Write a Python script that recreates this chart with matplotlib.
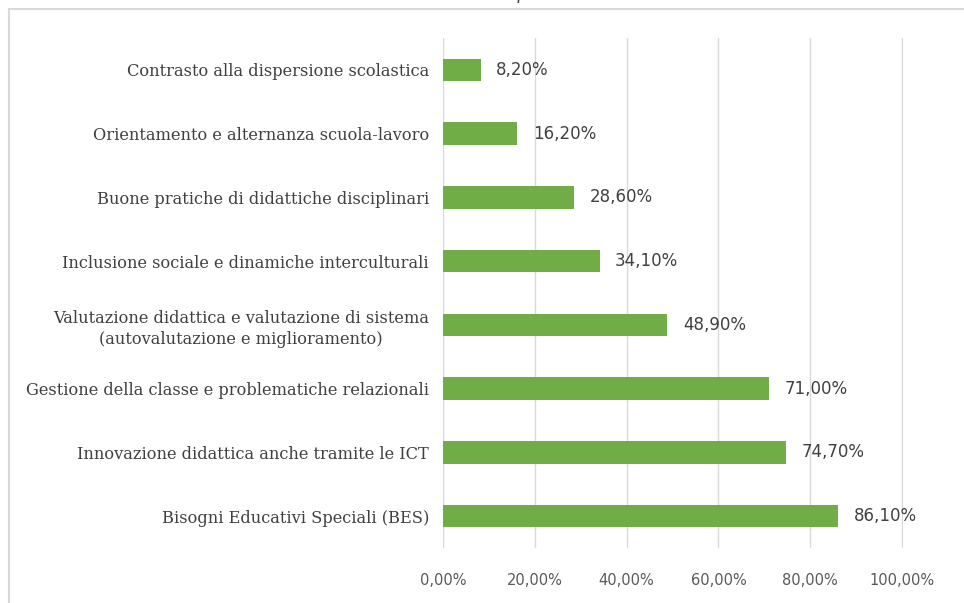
import matplotlib
matplotlib.use("Agg")
import matplotlib.pyplot as plt
from matplotlib.patches import Rectangle

categories = [
    "Contrasto alla dispersione scolastica",
    "Orientamento e alternanza scuola-lavoro",
    "Buone pratiche di didattiche disciplinari",
    "Inclusione sociale e dinamiche interculturali",
    "Valutazione didattica e valutazione di sistema\n(autovalutazione e miglioramento)",
    "Gestione della classe e problematiche relazionali",
    "Innovazione didattica anche tramite le ICT",
    "Bisogni Educativi Speciali (BES)",
]
values = [0.082, 0.162, 0.286, 0.341, 0.489, 0.710, 0.747, 0.861]
value_labels = ["8,20%", "16,20%", "28,60%", "34,10%", "48,90%", "71,00%", "74,70%", "86,10%"]
xticks = [0.0, 0.2, 0.4, 0.6, 0.8, 1.0]
xtick_labels = ["0,00%", "20,00%", "40,00%", "60,00%", "80,00%", "100,00%"]
title = "dei corsi dei laboratori formativi"

W, H = 964, 603
fig = plt.figure(figsize=(W / 100, H / 100), dpi=100)
fig.patch.set_facecolor("white")

# outer chart border (partially cropped)
fig.patches.append(Rectangle((9 / W, -0.05), 1.2, 1 - 9 / H + 0.05, transform=fig.transFigure,
                             fill=False, edgecolor="#D9D9D9", linewidth=1.5, zorder=0))

# cropped title (cut off at the top edge as in the reference)
fig.text(460 / W, 1 + 6 / H, title, ha="center", va="center", fontsize=14,
         family="Liberation Serif", style="italic", color="#404040")

left, right = 443 / W, 903 / W
top, bottom = 1 - 38 / H, 1 - 548 / H
ax = fig.add_axes([left, bottom, right - left, top - bottom])

y = list(range(len(categories)))
ax.barh(y, values, height=0.35, color="#70AD47", zorder=3)
ax.set_ylim(len(categories) - 0.5, -0.5)
ax.set_xlim(0, 1.002)

for yi, v, lab in zip(y, values, value_labels):
    ax.text(v + 0.034, yi, lab, va="center", ha="left", fontsize=12,
            family="DejaVu Sans", color="#404040", zorder=4)

ax.set_yticks(y)
ax.set_yticklabels(categories, family="DejaVu Serif", fontsize=11.7, color="#404040",
                   linespacing=1.3)
ax.set_xticks(xticks)
ax.set_xticklabels(xtick_labels, family="DejaVu Sans", fontsize=10.5, color="#595959")
ax.tick_params(axis="y", length=0, pad=10)
ax.tick_params(axis="x", length=0, pad=18)
for lbl in ax.get_yticklabels():
    lbl.set_multialignment("center")

ax.grid(axis="x", color="#D9D9D9", linewidth=1, zorder=0)
ax.grid(axis="y", visible=False)
for s in ax.spines.values():
    s.set_visible(False)

fig.savefig("out.png", dpi=100, facecolor="white")
